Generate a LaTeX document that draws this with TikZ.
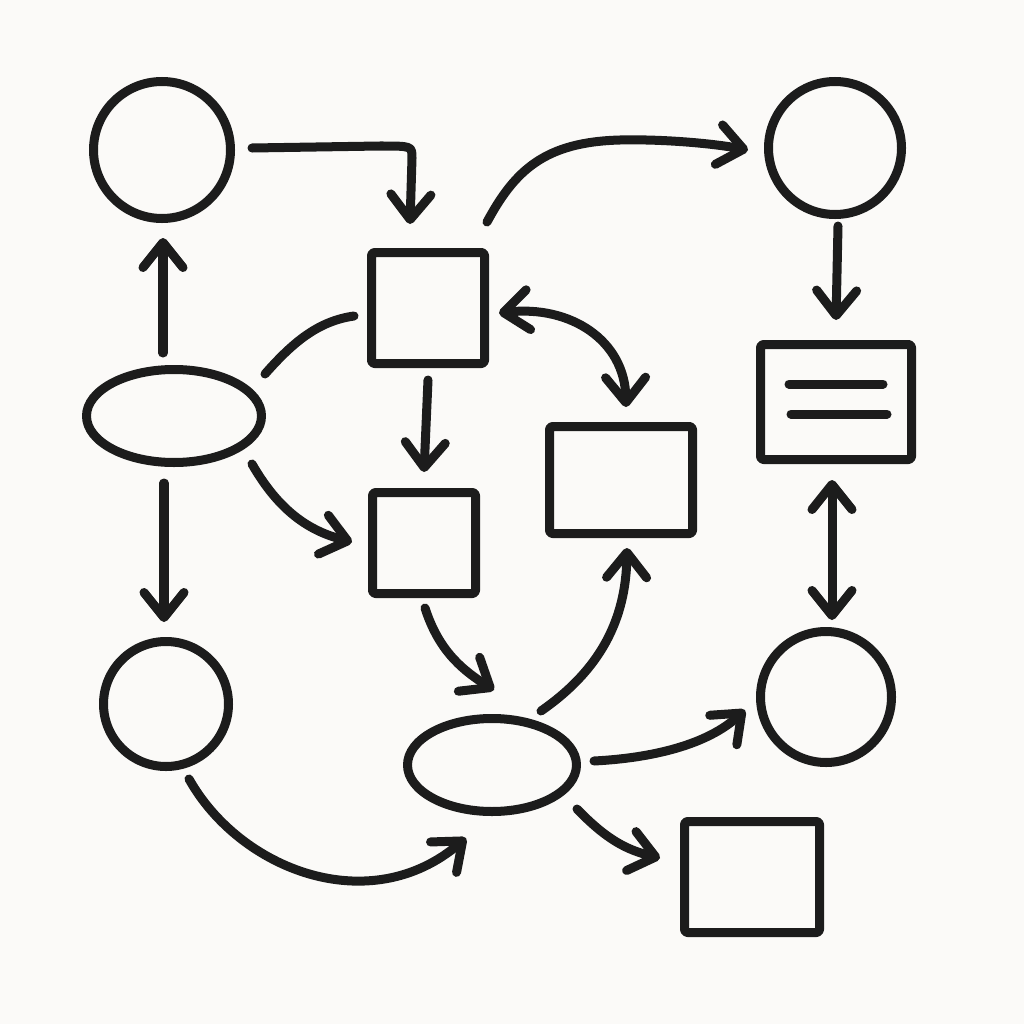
\documentclass[tikz,border=0pt]{standalone}
\usetikzlibrary{shapes.geometric,arrows.meta}
\definecolor{ink}{HTML}{1C1C1C}
\definecolor{paper}{HTML}{FBFAF8}
\tikzset{
  x=0.01cm,y=-0.01cm,
  shp/.style={draw=ink,line width=0.09cm,inner sep=0pt,outer sep=0pt,line join=round},
  circ/.style={shp,circle,minimum size=#1*0.01cm},
  ell/.style n args={2}{shp,ellipse,minimum width=#1*0.01cm,minimum height=#2*0.01cm},
  box/.style n args={2}{shp,rectangle,rounded corners=0.03cm,minimum width=#1*0.01cm,minimum height=#2*0.01cm},
  conn/.style={draw=ink,line width=0.09cm,line cap=round,line join=round},
  tip/.style={conn,-{Straight Barb[length=0.25cm,width=0.40cm,round]}},
  tipb/.style={conn,{Straight Barb[length=0.25cm,width=0.40cm,round]}-{Straight Barb[length=0.25cm,width=0.40cm,round]}},
}
\begin{document}
\begin{tikzpicture}
\fill[paper] (0,0) rectangle (1024,1024);
\useasboundingbox (0,0) rectangle (1024,1024);
\node[circ=137] (c1) at (162,150) {};
\node[circ=133] (c2) at (835,148) {};
\node[circ=125] (c3) at (166,704) {};
\node[circ=131] (c4) at (826,697) {};
\node[ell={175}{93}] (e1) at (174,416) {};
\node[ell={169}{93}] (e2) at (492,765) {};
\node[box={113}{111}] (r1) at (428,308) {};
\node[box={103}{101}] (r2) at (424,543) {};
\node[box={143}{107}] (r3) at (621,480) {};
\node[box={151}{115}] (r4) at (836,402) {};
\node[box={135}{111}] (r5) at (752,877) {};
\draw[conn] ([shift={(-47,-18)}]r4.center) -- ([shift={(47,-18)}]r4.center);
\draw[conn] ([shift={(-45,12)}]r4.center) -- ([shift={(51,12)}]r4.center);
% connectors
\draw[tip] ([shift={(90,-2)}]c1.center) -- ([shift={(218,-4)}]c1.center) .. controls ([shift={(-16,-162)}]r1.center) and ([shift={(-16,-162)}]r1.center) .. ([shift={(-16,-150)}]r1.center) -- ([shift={(-18,-84)}]r1.center);
\draw[tip] ([shift={(59,-86)}]r1.center) .. controls ([shift={(87,-138)}]r1.center) and ([shift={(117,-166)}]r1.center) .. ([shift={(192,-168)}]r1.center) .. controls ([shift={(232,-169)}]r1.center) and ([shift={(282,-165)}]r1.center) .. ([shift={(-87,2)}]c2.center);
\draw[tip] ([shift={(3,78)}]c2.center) -- ([shift={(0,-82)}]r4.center);
\draw[tip] ([shift={(-11,-63)}]e1.center) -- ([shift={(1,88)}]c1.center);
\draw[conn] ([shift={(91,-42)}]e1.center) .. controls ([shift={(120,-75)}]e1.center) and ([shift={(145,-95)}]e1.center) .. ([shift={(-74,8)}]r1.center);
\draw[tip] ([shift={(0,72)}]r1.center) -- ([shift={(0,-71)}]r2.center);
\draw[tipb] ([shift={(71,5)}]r1.center) .. controls ([shift={(142,-3)}]r1.center) and ([shift={(197,32)}]r1.center) .. ([shift={(5,-73)}]r3.center);
\draw[tip] ([shift={(78,48)}]e1.center) .. controls ([shift={(105,95)}]e1.center) and ([shift={(135,115)}]e1.center) .. ([shift={(-72,-1)}]r2.center);
\draw[tip] ([shift={(-10,67)}]e1.center) -- ([shift={(-2,-82)}]c3.center);
\draw[tip] ([shift={(1,65)}]r2.center) .. controls ([shift={(14,105)}]r2.center) and ([shift={(35,125)}]r2.center) .. ([shift={(2,-75)}]e2.center);
\draw[tip] ([shift={(49,-54)}]e2.center) .. controls ([shift={(108,-95)}]e2.center) and ([shift={(134,-145)}]e2.center) .. ([shift={(6,68)}]r3.center);
\draw[tip] ([shift={(102,-4)}]e2.center) .. controls ([shift={(160,-7)}]e2.center) and ([shift={(215,-20)}]e2.center) .. ([shift={(-81,13)}]c4.center);
\draw[tip] ([shift={(85,44)}]e2.center) .. controls ([shift={(115,75)}]e2.center) and ([shift={(135,85)}]e2.center) .. ([shift={(-92,-19)}]r5.center);
\draw[tip] ([shift={(23,75)}]c3.center) .. controls ([shift={(74,166)}]c3.center) and ([shift={(204,216)}]c3.center) .. ([shift={(-26,73)}]e2.center);
\draw[tipb] ([shift={(-4,78)}]r4.center) -- ([shift={(6,-77)}]c4.center);
\end{tikzpicture}
\end{document}
